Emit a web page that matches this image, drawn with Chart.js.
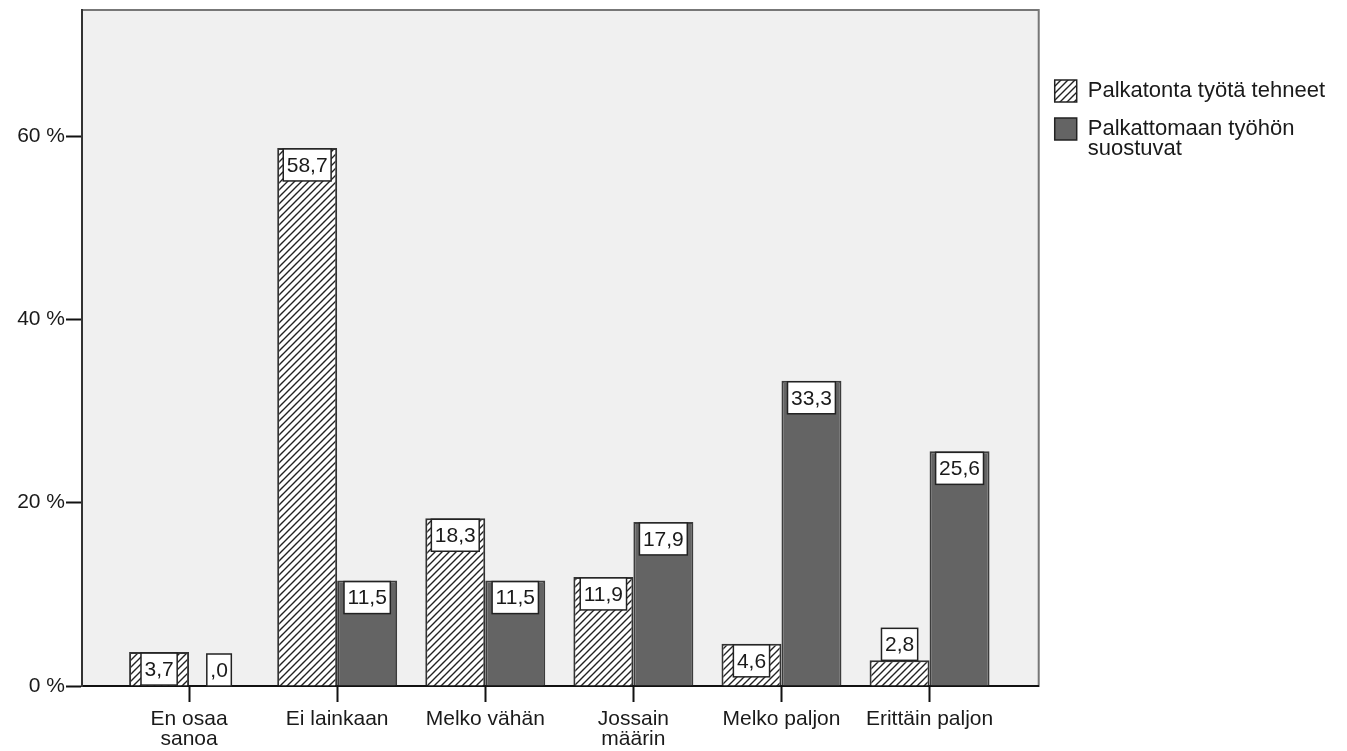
<!DOCTYPE html>
<html>
<head>
<meta charset="utf-8">
<script src="https://cdn.jsdelivr.net/npm/chart.js@4"></script>
<style>
  body { margin: 0; background: #fff; }
</style>
</head>
<body>
<canvas id="myChart" width="1347" height="751"></canvas>
<script>
// category labels (multi-line where the original wraps)
const categories = [
    ["En osaa", "sanoa"],
    "Ei lainkaan",
    "Melko vähän",
    ["Jossain", "määrin"],
    "Melko paljon",
    "Erittäin paljon",
];
const seriesNames = [
    "Palkatonta työtä tehneet",
    ["Palkattomaan työhön", "suostuvat"],
];
// percentages
const unpaidDone = [3.7, 58.7, 18.3, 11.9, 4.6, 2.8];
const unpaidWilling = [0.0, 11.5, 11.5, 17.9, 33.3, 25.6];
const yTicks = [0, 20, 40, 60];

const FONT = "'Liberation Sans', Arial, sans-serif";
const TEXT = "#1a1a1a";

// diagonal hatch like the SPSS pattern
function makeHatch() {
    const c = document.createElement("canvas");
    const s = 7;
    c.width = s;
    c.height = s;
    const g = c.getContext("2d");
    g.fillStyle = "#fff";
    g.fillRect(0, 0, s, s);
    g.strokeStyle = "#222";
    g.lineWidth = 1.4;
    g.beginPath();
    g.moveTo(-1, s + 1);
    g.lineTo(s + 1, -1);
    g.moveTo(-1, 1);
    g.lineTo(1, -1);
    g.moveTo(s - 1, s + 1);
    g.lineTo(s + 1, s - 1);
    g.stroke();
    return g.createPattern(c, "repeat");
}

function fmt(v) {
    let s = v.toFixed(1).replace(".", ",");
    if (s.startsWith("0,")) s = s.slice(1);
    return s;
}

// grey plot box
const plotBox = {
    id: "plotBox",
    beforeDraw(chart) {
        const { ctx, chartArea: a } = chart;
        ctx.save();
        ctx.fillStyle = "#f0f0f0";
        ctx.fillRect(a.left, a.top, a.right - a.left, a.bottom - a.top);
        ctx.strokeStyle = "#777";
        ctx.lineWidth = 2;
        ctx.strokeRect(a.left, a.top, a.right - a.left, a.bottom - a.top);
        ctx.restore();
    },
};

// SPSS leaves extra room at both ends of the category axis
const catSpread = {
    id: "catSpread",
    afterLayout(chart) {
        const x = chart.scales.x;
        x._startValue = -0.723;
        x._valueRange = 6.46;
    },
};

// value labels in white boxes
const valueBoxes = {
    id: "valueBoxes",
    afterDatasetsDraw(chart) {
        const ctx = chart.ctx;
        ctx.save();
        ctx.font = "21px " + FONT;
        ctx.textAlign = "center";
        ctx.textBaseline = "middle";
        chart.data.datasets.forEach((ds, di) => {
            chart.getDatasetMeta(di).data.forEach((bar, i) => {
                const txt = fmt(ds.data[i]);
                const w = ctx.measureText(txt).width + 7;
                const h = 32;
                let top = bar.y + 1;
                if (bar.base - bar.y < h) top = bar.y - h;
                const left = bar.x - w / 2;
                ctx.fillStyle = "#fff";
                ctx.fillRect(left, top, w, h);
                ctx.strokeStyle = "#222";
                ctx.lineWidth = 1.5;
                ctx.strokeRect(left, top, w, h);
                ctx.fillStyle = TEXT;
                ctx.fillText(txt, bar.x, top + h / 2 + 1);
            });
        });
        ctx.restore();
    },
};

const hatch = makeHatch();

new Chart(document.getElementById("myChart"), {
    type: "bar",
    data: {
        labels: categories,
        datasets: [
            {
                label: seriesNames[0],
                data: unpaidDone,
                backgroundColor: hatch,
                borderColor: "#333",
                borderWidth: 2,
                borderSkipped: "bottom",
            },
            {
                label: seriesNames[1].join(" "),
                data: unpaidWilling,
                backgroundColor: "#646464",
                borderColor: "#3c3c3c",
                borderWidth: 2,
                borderSkipped: "bottom",
            },
        ],
    },
    options: {
        responsive: false,
        animation: false,
        layout: { padding: { top: 10, right: 12, left: 0, bottom: 0 } },
        datasets: { bar: { categoryPercentage: 0.81, barPercentage: 1 } },
        plugins: {
            tooltip: { enabled: false },
            legend: {
                position: "right",
                align: "start",
                maxWidth: 309,
                title: { display: true, text: " ", padding: { top: 42, bottom: 0 }, font: { size: 10 } },
                labels: {
                    font: { family: FONT, size: 22, lineHeight: 0.9 },
                    color: TEXT,
                    boxWidth: 22,
                    boxHeight: 22,
                    padding: 16,
                    generateLabels(chart) {
                        const items = Chart.defaults.plugins.legend.labels.generateLabels(chart);
                        items.forEach((it, i) => {
                            it.text = seriesNames[i];
                            it.lineWidth = 1.5;
                            it.strokeStyle = "#222";
                        });
                        return items;
                    },
                },
            },
        },
        scales: {
            x: {
                offset: true,
                afterFit(s) { s.height = 65; },
                grid: {
                    display: true,
                    offset: false,
                    drawOnChartArea: false,
                    tickLength: 16,
                    tickWidth: 2,
                    tickColor: "#111",
                },
                border: { color: "#111", width: 2 },
                ticks: {
                    autoSkip: false,
                    maxRotation: 0,
                    minRotation: 0,
                    padding: 7,
                    color: TEXT,
                    font: { family: FONT, size: 21, lineHeight: 0.95 },
                },
            },
            y: {
                min: 0,
                max: 73.75,
                afterFit(s) {
                    s.width = 82;
                    s.paddingTop = 0;
                    s.paddingBottom = 0;
                },
                afterBuildTicks(s) {
                    s.ticks = yTicks.map((v) => ({ value: v }));
                },
                grid: {
                    drawOnChartArea: false,
                    tickLength: 16,
                    tickWidth: 2,
                    tickColor: "#111",
                },
                border: { color: "#333", width: 2 },
                ticks: {
                    padding: 1,
                    color: TEXT,
                    font: { family: FONT, size: 21 },
                    callback: (v) => v + " %",
                },
            },
        },
    },
    plugins: [plotBox, catSpread, valueBoxes],
});
</script>
</body>
</html>
